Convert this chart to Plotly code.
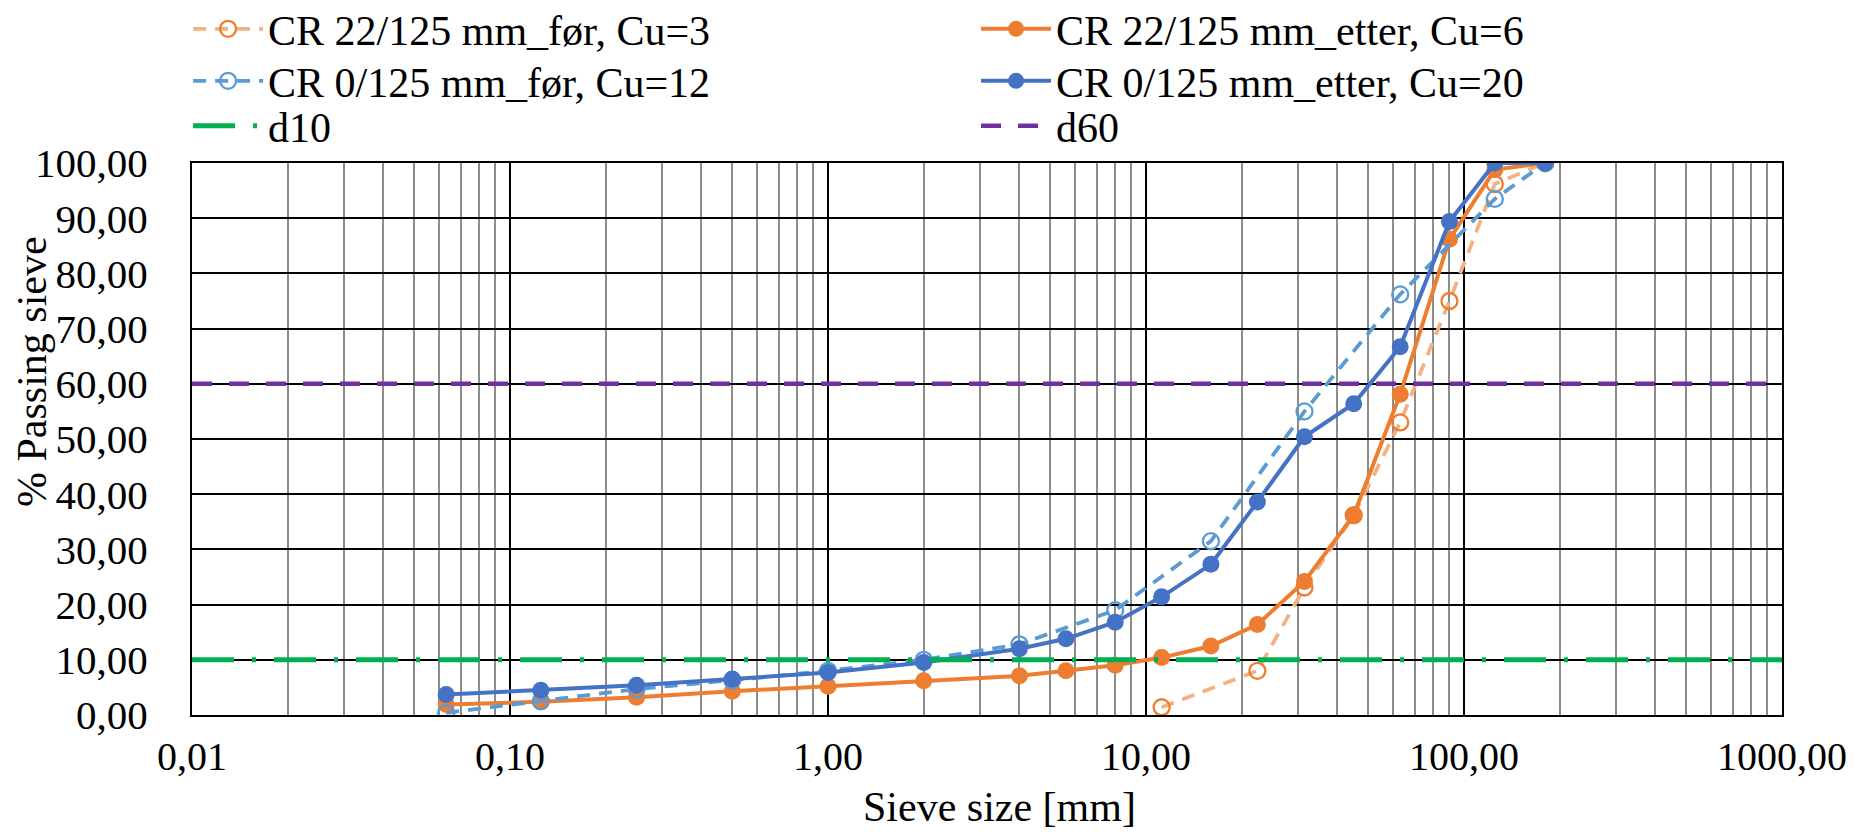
import plotly.graph_objects as go

# ---- data ----
sieve_sizes = [0.063, 0.125, 0.25, 0.5, 1, 2, 4, 5.6, 8, 11.2, 16, 22.4, 31.5, 45, 63, 90, 125, 180]
cr22_etter = [1.9, 2.4, 3.2, 4.3, 5.2, 6.2, 7.1, 8.0, 9.0, 10.4, 12.5, 16.4, 24.2, 36.2, 58.1, 86.2, 98.8, 100]
cr0_etter = [3.7, 4.5, 5.4, 6.5, 7.7, 9.5, 12.0, 13.8, 16.8, 21.4, 27.3, 38.6, 50.4, 56.4, 66.7, 89.4, 100, 100]

cr22_for_sizes = [11.2, 22.4, 31.5, 45, 63, 90, 125, 180]
cr22_for = [1.4, 8.0, 23.1, 36.2, 53.0, 75.0, 96.2, 100]

cr0_for_sizes = [0.063, 0.125, 0.25, 0.5, 1, 2, 4, 8, 16, 31.5, 63, 125, 180]
cr0_for = [0.4, 2.5, 4.7, 6.3, 8.0, 10.0, 12.8, 19.0, 31.5, 55.0, 76.2, 93.5, 100]

ref_x = [0.01, 1000]
d10_y = [10, 10]
d60_y = [60, 60]

x_tickvals = [0.01, 0.1, 1, 10, 100, 1000]
x_ticktext = ["0,01", "0,10", "1,00", "10,00", "100,00", "1000,00"]
x_minor = [k * 10.0 ** e for e in range(-2, 3) for k in range(2, 10)]

names = ["CR 22/125 mm_før, Cu=3", "CR 22/125 mm_etter, Cu=6",
         "CR 0/125 mm_før, Cu=12", "CR 0/125 mm_etter, Cu=20", "d10", "d60"]
x_title = "Sieve size [mm]"
y_title = "% Passing sieve"

FONT = "Liberation Serif"

# figure is 16 px smaller than the window because the page body has an 8 px margin
W, H = 1838, 819
ML, MR, MT, MB = 184, 64, 155, 112
PW, PH = W - ML - MR, H - MT - MB

fig = go.Figure()
fig.add_trace(go.Scatter(
    x=cr22_for_sizes, y=cr22_for, name=names[0], mode="lines+markers", legend="legend",
    line=dict(color="#F4B183", width=3.8, dash="13px,9px"),
    marker=dict(symbol="circle-open", size=16, color="#ED7D31", line=dict(width=2.3, color="#ED7D31"))))
fig.add_trace(go.Scatter(
    x=sieve_sizes, y=cr22_etter, name=names[1], mode="lines+markers", legend="legend2",
    line=dict(color="#ED7D31", width=4),
    marker=dict(symbol="circle", size=17, color="#ED7D31")))
fig.add_trace(go.Scatter(
    x=cr0_for_sizes, y=cr0_for, name=names[2], mode="lines+markers", legend="legend3",
    line=dict(color="#5B9BD5", width=3.8, dash="13px,9px"),
    marker=dict(symbol="circle-open", size=16, color="#5B9BD5", line=dict(width=2.3, color="#5B9BD5"))))
fig.add_trace(go.Scatter(
    x=sieve_sizes, y=cr0_etter, name=names[3], mode="lines+markers", legend="legend4",
    line=dict(color="#4472C4", width=4),
    marker=dict(symbol="circle", size=17, color="#4472C4")))
fig.add_trace(go.Scatter(
    x=ref_x, y=d10_y, name=names[4], mode="lines", legend="legend5",
    line=dict(color="#00B050", width=5, dash="42px,18px,4px,18px")))
fig.add_trace(go.Scatter(
    x=ref_x, y=d60_y, name=names[5], mode="lines", legend="legend6",
    line=dict(color="#7030A0", width=4.5, dash="20px,17px")))

col_x = [0.1143 - 30 / W, 0.543 - 30 / W]
row_y = [1 - 21 / H, 1 - 73 / H, 1 - 118 / H]


def leg(col, row):
    return dict(xref="container", yref="container", x=col_x[col], y=row_y[row],
                xanchor="left", yanchor="middle", itemwidth=70,
                font=dict(family=FONT, size=42, color="black"),
                bgcolor="rgba(0,0,0,0)")


fig.update_layout(
    width=W, height=H,
    margin=dict(l=ML, r=MR, t=MT, b=MB, autoexpand=False),
    paper_bgcolor="white", plot_bgcolor="white",
    separators=", ",
    font=dict(family=FONT, size=40, color="black"),
    showlegend=True,
    legend=leg(0, 0), legend2=leg(1, 0),
    legend3=leg(0, 1), legend4=leg(1, 1),
    legend5=leg(0, 2), legend6=leg(1, 2),
    annotations=[
        dict(text=x_title, xref="paper", yref="paper",
             x=(991 - ML) / PW, y=(MT + PH - 799) / PH,
             xanchor="center", yanchor="middle", showarrow=False,
             font=dict(family=FONT, size=42, color="black")),
        dict(text=y_title, xref="paper", yref="paper", textangle=-90,
             x=(24 - ML) / PW, y=(MT + PH - 364) / PH,
             xanchor="center", yanchor="middle", showarrow=False,
             font=dict(family=FONT, size=42, color="black")),
    ],
)

fig.update_xaxes(
    type="log", range=[-2, 3],
    tickvals=x_tickvals, ticktext=x_ticktext,
    tickfont=dict(family=FONT, size=40), ticklabeloverflow="allow",
    showgrid=True, gridcolor="black", gridwidth=1.5,
    minor=dict(tickvals=x_minor, showgrid=True, gridcolor="#8c8c8c", gridwidth=1.8, ticks=""),
    showline=True, linecolor="black", linewidth=2, mirror=True,
    ticks="", ticklabelstandoff=5, zeroline=False,
)
fig.update_yaxes(
    range=[0, 100], dtick=10, tickformat=".2f",
    tickfont=dict(family=FONT, size=41),
    showgrid=True, gridcolor="black", gridwidth=1.5,
    showline=True, linecolor="black", linewidth=2, mirror=True,
    ticks="", ticklabelstandoff=34, zeroline=False,
)

fig.write_html("out.html")
